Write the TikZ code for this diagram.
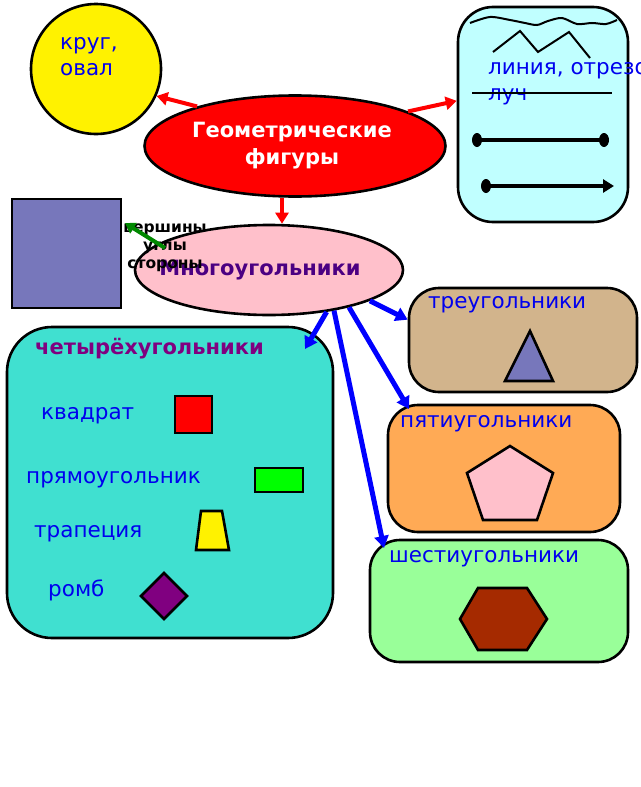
\documentclass[tikz,border=0pt]{standalone}
\usepackage{fontspec}
\setmainfont{DejaVu Sans}
\usetikzlibrary{shapes.geometric,arrows.meta}

\definecolor{cyanbox}{HTML}{C0FFFF}
\definecolor{tanbox}{HTML}{D2B48C}
\definecolor{orangebox}{HTML}{FFAA55}
\definecolor{greenbox}{HTML}{99FF99}
\definecolor{turqbox}{HTML}{40E0D0}
\definecolor{slate}{HTML}{7777BB}
\definecolor{pinkfill}{HTML}{FFC0CB}
\definecolor{hexfill}{HTML}{A52A00}
\definecolor{polytext}{HTML}{4B0082}
\definecolor{quadtext}{HTML}{800080}
\definecolor{textblue}{HTML}{0000EE}
\definecolor{arrowgreen}{HTML}{008800}

\tikzset{
  outline/.style={draw=black, line width=2.6pt},
  bigbox/.style={outline, rounded corners=30pt, inner sep=0pt},
  boxtext/.style={text=textblue, font=\fontsize{21.5}{26}\selectfont, anchor=west, inner sep=0pt, align=left},
  redarrow/.style={red, line width=4pt, -{Triangle[length=11pt,width=13pt]}},
  bluearrow/.style={blue, line width=5pt, -{Triangle[length=12pt,width=14pt]}},
  greenarrow/.style={arrowgreen, line width=4pt, -{Triangle[length=10pt,width=12pt]}}
}

\begin{document}
\begin{tikzpicture}[x=1pt,y=-1pt]
\useasboundingbox (0,0) rectangle (640,787);

\coordinate (quadtip) at (305,349);
\coordinate (penttip) at (409,409);
\coordinate (hextip) at (384,548);
\coordinate (sqtip) at (125,223);

% circle and lines
\node[circle, outline, fill=yellow, minimum size=130pt, inner sep=0pt] (krug) at (96,69) {};
\node[boxtext] (krugtext) at (60,57) {круг,\\овал};

\node[bigbox, fill=cyanbox, rounded corners=35pt, minimum width=170pt, minimum height=215pt] (lines) at (543,114.5) {};
\draw[line width=2pt] plot[smooth] coordinates {(470,23) (490,17) (510,20) (525,23) (537,25) (548,21) (562,18) (577,24) (592,23) (606,24) (617,20)};
\draw[line width=2pt] (493,52) -- (520,31) -- (538,52) -- (569,32) -- (590,58);
\node[boxtext] (linestext) at (488,84) {линия, отрезок\\луч};
\draw[line width=2pt] (472,93) -- (612,93);
\draw[line width=3.5pt] (477,140) -- (604,140);
\fill (477,140) ellipse (5pt and 7pt) (604,140) ellipse (5pt and 7pt);
\fill (486,186) ellipse (5pt and 7pt);
\draw[line width=3.5pt, -{Triangle[length=11pt,width=13pt]}] (486,186) -- (614,186);

% main ovals
\node[ellipse, outline, fill=red, minimum width=301pt, minimum height=101pt, inner sep=0pt,
  text=white, font=\bfseries\fontsize{21}{27}\selectfont, align=center] (geo) at (295,146) {\hspace*{-6pt}Геометрические\\\hspace*{-6pt}фигуры};

\node[outline, fill=slate, minimum width=109pt, minimum height=109pt, inner sep=0pt] (sq) at (66.5,253.5) {};

\node[ellipse, outline, fill=pinkfill, minimum width=268pt, minimum height=90pt, inner sep=0pt,
  text=polytext, font=\bfseries\fontsize{21}{24}\selectfont] (poly) at (269,270) {\hspace*{-18pt}Многоугольники};
\node[font=\bfseries\fontsize{15.5}{18}\selectfont, align=center, inner sep=0pt] (props) at (165,248) {вершины\\углы\\стороны};

% triangles, pentagons, hexagons
\node[bigbox, fill=tanbox, minimum width=228pt, minimum height=104pt] (tri) at (523,340) {};
\node[boxtext] (tritext) at (428,305) {треугольники};
\draw[outline, fill=slate] (505,381) -- (530,331) -- (553,381) -- cycle;

\node[bigbox, fill=orangebox, minimum width=232pt, minimum height=127pt] (pent) at (504,468.5) {};
\node[boxtext] (penttext) at (400,424) {пятиугольники};
\draw[outline, fill=pinkfill] (510,446) -- (553,473) -- (537,520) -- (483,520) -- (467,473) -- cycle;

\node[bigbox, fill=greenbox, minimum width=258pt, minimum height=122pt] (hex) at (499,601) {};
\node[boxtext] (hextext) at (389,559) {шестиугольники};
\draw[outline, fill=hexfill] (460,619) -- (478,588) -- (527,588) -- (547,619) -- (527,650) -- (478,650) -- cycle;

% quadrilaterals
\node[bigbox, fill=turqbox, rounded corners=45pt, minimum width=326pt, minimum height=311pt] (quad) at (170,482.5) {};
\node[boxtext, text=quadtext, font=\bfseries\fontsize{21}{24}\selectfont] (quadtext) at (35,349) {четырёхугольники};
\node[boxtext] (kvadrat) at (41,416) {квадрат};
\draw[outline, fill=red] (175,396) rectangle (212,433);
\node[boxtext] (pryam) at (26,480) {прямоугольник};
\draw[outline, fill=green] (255,468) rectangle (303,492);
\node[boxtext] (trap) at (34,534) {трапеция};
\draw[outline, fill=yellow] (196,550) -- (201,511) -- (222,511) -- (229,550) -- cycle;
\node[boxtext] (romb) at (48,590) {ромб};
\draw[outline, fill=quadtext] (141,596) -- (164,573) -- (187,596) -- (164,619) -- cycle;

% arrows
\draw[redarrow] (geo.158) -- (krug.-24);
\draw[redarrow] (geo.17) -- (lines.171);
\draw[redarrow] ([xshift=-13pt]geo.south) -- ([xshift=-13pt]geo.south |- poly.north);
\draw[greenarrow] (props.center) -- (sqtip);
\draw[bluearrow] (poly.-36.5) -- (quadtip);
\draw[bluearrow] (poly.-17.5) -- (tri.170);
\draw[bluearrow] (poly.-25.3) -- (penttip);
\draw[bluearrow] (poly.-32) -- (hextip);

\end{tikzpicture}
\end{document}
